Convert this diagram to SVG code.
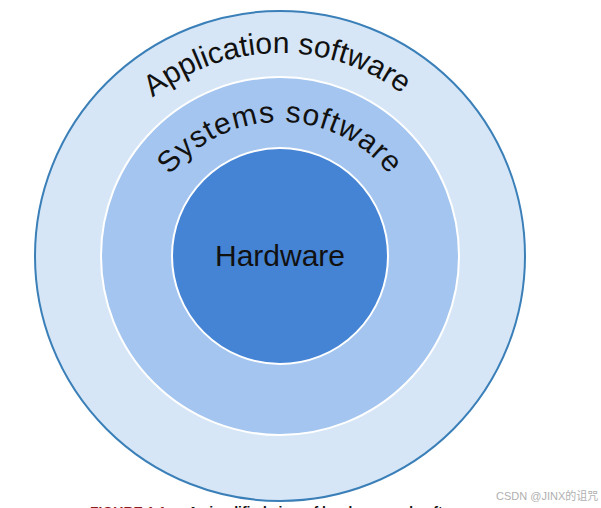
<svg xmlns="http://www.w3.org/2000/svg" width="601" height="508" viewBox="0 0 601 508">
  <style>
    .lbl { font-family: "Liberation Sans", Arial, sans-serif; fill: #111; }
    .ring { font-size: 30px; }
  </style>
  <defs>
    <path id="arcApp" d="M 77 256 A 203 203 0 0 1 483 256"/>
    <path id="arcSys" d="M 140 262 A 140 140 0 0 1 420 262"/>
  </defs>
  <rect width="601" height="508" fill="#ffffff"/>
  <g id="application">
    <circle cx="280" cy="256" r="245" fill="#d6e6f6" stroke="#3a7fb8" stroke-width="2"/>
    <text class="lbl ring"><textPath href="#arcApp" startOffset="49.5%" text-anchor="middle">Application software</textPath></text>
  </g>
  <g id="systems">
    <circle cx="280" cy="256" r="179" fill="#a4c5ef" stroke="#ffffff" stroke-width="2"/>
    <text class="lbl ring" font-size="31" letter-spacing="1"><textPath href="#arcSys" startOffset="50%" text-anchor="middle">Systems software</textPath></text>
  </g>
  <g id="hardware">
    <circle cx="280" cy="256" r="108" fill="#4583d4" stroke="#ffffff" stroke-width="2"/>
    <text class="lbl" x="280" y="266" font-size="30" text-anchor="middle">Hardware</text>
  </g>
  <g id="caption" font-family="'Liberation Sans', Arial, sans-serif" font-weight="bold" font-size="14">
    <text x="90" y="517" fill="#8b1a1a">FIGURE 1.1</text>
    <text x="188" y="517" fill="#111">A simplified view of hardware and software</text>
  </g>
  <text x="496" y="500" font-family="'Liberation Sans', 'Noto Sans CJK SC', sans-serif" font-size="11" fill="#b0b0b0">CSDN @JINX的诅咒</text>
</svg>
